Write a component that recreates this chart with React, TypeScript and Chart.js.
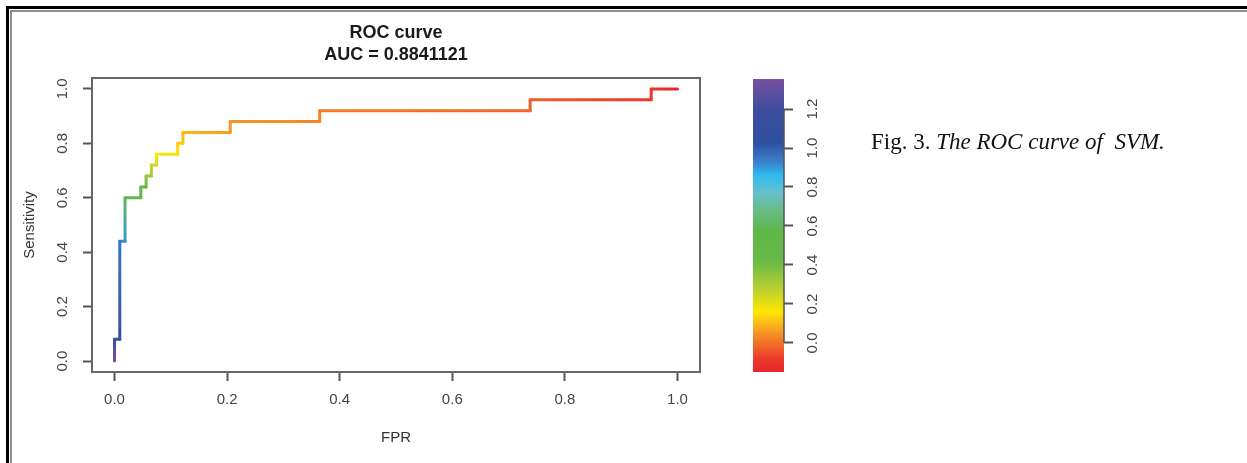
import React, { useEffect, useRef } from "react";
import { Chart, registerables } from "chart.js";
Chart.register(...registerables);

// ROC curve vertices (25 positives, 107 negatives)
const fpr = [0, 0, 0.009346, 0.009346, 0.018692, 0.018692, 0.046729, 0.046729, 0.056075, 0.056075, 0.065421, 0.065421, 0.074766, 0.074766, 0.11215, 0.11215, 0.121495, 0.121495, 0.205607, 0.205607, 0.364486, 0.364486, 0.738318, 0.738318, 0.953271, 0.953271, 1];
const tpr = [0, 0.08, 0.08, 0.44, 0.44, 0.6, 0.6, 0.64, 0.64, 0.68, 0.68, 0.72, 0.72, 0.76, 0.76, 0.8, 0.8, 0.84, 0.84, 0.88, 0.88, 0.92, 0.92, 0.96, 0.96, 1, 1];
// estimated cutoff at each vertex (drives the colour)
const cutoff = [1.35, 1.17, 1.12, 0.95, 0.9, 0.6, 0.52, 0.48, 0.44, 0.36, 0.32, 0.26, 0.22, 0.17, 0.15, 0.13, 0.12, 0.1, 0.06, 0.05, 0.03, 0.02, -0.02, -0.03, -0.09, -0.1, -0.149];

const axisTicks = [0, 0.2, 0.4, 0.6, 0.8, 1.0];
const colorbarTicks = [0, 0.2, 0.4, 0.6, 0.8, 1.0, 1.2];
const cutoffRange = [-0.149, 1.354];
const titleLines = ["ROC curve", "AUC = 0.8841121"];
const xLabel = "FPR";
const yLabel = "Sensitivity";

// colour scale
const cmapValues = [-0.149, -0.08, 0.005, 0.077, 0.16, 0.28, 0.415, 0.57, 0.69, 0.77, 0.86, 0.93, 1.03, 1.2, 1.354];
const cmapColors = ["#e8262a", "#ea3b2a", "#f07527", "#f9a723", "#ffe600", "#b8cf32", "#6aba46", "#5eb746", "#68bc8c", "#67c0cd", "#2fbaf0", "#3b7fcc", "#2f4fa0", "#3d4d9f", "#7a4fa0"];

const SANS = '"Liberation Sans", Arial, Helvetica, sans-serif';

function hexToRgb(h: string) {
  const n = parseInt(h.slice(1), 16);
  return [(n >> 16) & 255, (n >> 8) & 255, n & 255];
}
function cmap(v: number): string {
  if (v <= cmapValues[0]) return cmapColors[0];
  const last = cmapValues.length - 1;
  if (v >= cmapValues[last]) return cmapColors[last];
  for (let k = 0; k < last; k++) {
    const a = cmapValues[k], b = cmapValues[k + 1];
    if (v >= a && v <= b) {
      const t = (v - a) / (b - a);
      const c0 = hexToRgb(cmapColors[k]), c1 = hexToRgb(cmapColors[k + 1]);
      const c = c0.map((x, i) => Math.round(x + (c1[i] - x) * t));
      return `rgb(${c[0]},${c[1]},${c[2]})`;
    }
  }
  return cmapColors[last];
}

const fmt = (v: number | string) => Number(v).toFixed(1);

export default function App() {
  const mainRef = useRef<HTMLCanvasElement | null>(null);
  const cbRef = useRef<HTMLCanvasElement | null>(null);

  useEffect(() => {
    const canvas = mainRef.current!;
    const cbCanvas = cbRef.current!;
    const ctx2d = canvas.getContext("2d")!;

    const segColor = (c: any) => {
      const g = ctx2d.createLinearGradient(c.p0.x, c.p0.y, c.p1.x, c.p1.y);
      g.addColorStop(0, cmap(cutoff[c.p0DataIndex]));
      g.addColorStop(1, cmap(cutoff[c.p1DataIndex]));
      return g;
    };

    const boxPlugin = {
      id: "box",
      afterDraw(chart: any) {
        const { ctx, chartArea: a } = chart;
        ctx.save();
        ctx.strokeStyle = "#666";
        ctx.lineWidth = 2;
        ctx.strokeRect(a.left, a.top, a.right - a.left, a.bottom - a.top);
        ctx.restore();
      },
    };

    const tickFont = { family: SANS, size: 15 };

    const main = new Chart(canvas, {
      type: "line",
      data: {
        datasets: [
          {
            data: fpr.map((x, i) => ({ x, y: tpr[i] })),
            borderColor: "#f07527",
            borderWidth: 3,
            pointRadius: 0,
            tension: 0,
            fill: false,
            borderCapStyle: "round",
            borderJoinStyle: "round",
            segment: {
              borderColor: segColor,
              borderDashOffset: (c: any) => c.p0DataIndex,
            },
          } as any,
        ],
      },
      options: {
        responsive: false,
        animation: false,
        events: [],
        layout: { padding: { left: 0, top: 0, right: 547, bottom: 0 } },
        plugins: {
          legend: { display: false },
          tooltip: { enabled: false },
          title: {
            display: true,
            text: titleLines,
            fullSize: false,
            color: "#1a1a1a",
            font: { family: SANS, size: 18, weight: "bold", lineHeight: "22px" },
            padding: { top: 22, bottom: 12 },
          },
        },
        scales: {
          x: {
            type: "linear",
            min: -0.04,
            max: 1.04,
            afterBuildTicks: (s: any) => {
              s.ticks = axisTicks.map((v) => ({ value: v }));
            },
            afterFit: (s: any) => {
              s.height = 91;
            },
            ticks: { font: tickFont, color: "#444", padding: 10, autoSkip: false, maxRotation: 0, callback: fmt },
            grid: { drawOnChartArea: false, drawTicks: true, tickLength: 9, tickColor: "#555", tickWidth: 2 },
            border: { display: false },
            title: {
              display: true,
              text: xLabel,
              color: "#333",
              font: { family: SANS, size: 15, lineHeight: "18px" },
              padding: { top: 0, bottom: 16 },
            },
          },
          y: {
            type: "linear",
            min: -0.04,
            max: 1.04,
            afterBuildTicks: (s: any) => {
              s.ticks = axisTicks.map((v) => ({ value: v }));
            },
            afterFit: (s: any) => {
              s.width = 92;
            },
            ticks: {
              font: tickFont,
              color: "#444",
              padding: 10,
              autoSkip: false,
              minRotation: 90,
              maxRotation: 90,
              crossAlign: "center",
              callback: fmt,
            },
            grid: { drawOnChartArea: false, drawTicks: true, tickLength: 9, tickColor: "#555", tickWidth: 2 },
            border: { display: false },
            title: {
              display: true,
              text: yLabel,
              color: "#333",
              font: { family: SANS, size: 15, lineHeight: "18px" },
              padding: { top: 21, bottom: 0 },
            },
          },
        },
      } as any,
      plugins: [boxPlugin],
    });

    const axisLinePlugin = {
      id: "cbAxisLine",
      afterDraw(chart: any) {
        const s = chart.scales.y;
        const { ctx } = chart;
        ctx.save();
        ctx.strokeStyle = "#555";
        ctx.lineWidth = 1.5;
        ctx.beginPath();
        ctx.moveTo(s.left, s.getPixelForValue(colorbarTicks[0]));
        ctx.lineTo(s.left, s.getPixelForValue(colorbarTicks[colorbarTicks.length - 1]));
        ctx.stroke();
        ctx.restore();
      },
    };

    const cb = new Chart(cbCanvas, {
      type: "bar",
      data: {
        labels: ["cutoff"],
        datasets: [
          {
            data: [cutoffRange as any],
            backgroundColor: (c: any) => {
              const chart = c.chart;
              if (!chart.chartArea) return cmapColors[0];
              const ys = chart.scales.y;
              const v0 = cmapValues[0];
              const vN = cmapValues[cmapValues.length - 1];
              const g = chart.ctx.createLinearGradient(0, ys.getPixelForValue(v0), 0, ys.getPixelForValue(vN));
              cmapValues.forEach((v, k) => g.addColorStop((v - v0) / (vN - v0), cmapColors[k]));
              return g;
            },
            borderWidth: 0,
            barPercentage: 1,
            categoryPercentage: 1,
          },
        ],
      },
      options: {
        responsive: false,
        animation: false,
        events: [],
        layout: { padding: { left: 13, top: 79, right: 0, bottom: 91 } },
        plugins: { legend: { display: false }, tooltip: { enabled: false }, title: { display: false } },
        scales: {
          x: { display: false },
          y: {
            position: "right",
            min: cutoffRange[0],
            max: cutoffRange[1],
            afterBuildTicks: (s: any) => {
              s.ticks = colorbarTicks.map((v) => ({ value: v }));
            },
            afterFit: (s: any) => {
              s.width = 76;
            },
            ticks: {
              font: tickFont,
              color: "#444",
              padding: 9,
              autoSkip: false,
              minRotation: 90,
              maxRotation: 90,
              crossAlign: "center",
              callback: fmt,
            },
            grid: { drawOnChartArea: false, drawTicks: true, tickLength: 9, tickColor: "#555", tickWidth: 2 },
            border: { display: false },
          },
        },
      } as any,
      plugins: [axisLinePlugin],
    });

    return () => {
      main.destroy();
      cb.destroy();
    };
  }, []);

  return (
    <div style={{ position: "fixed", left: 0, top: 0, width: 1247, height: 463, background: "#fff", overflow: "hidden" }}>
      <canvas ref={mainRef} width={1247} height={463} style={{ position: "absolute", left: 0, top: 0, display: "block" }} />
      <canvas ref={cbRef} width={120} height={463} style={{ position: "absolute", left: 740, top: 0, display: "block" }} />
      <div
        style={{
          position: "absolute",
          left: 871,
          top: 130,
          fontFamily: '"Liberation Serif", "DejaVu Serif", serif',
          fontSize: 23,
          lineHeight: 1,
          color: "#111",
          whiteSpace: "nowrap",
        }}
      >
        Fig. 3. <i>The ROC curve of&nbsp; SVM.</i>
      </div>
      <div style={{ position: "absolute", left: 6, top: 6, right: 0, bottom: 0, borderTop: "3px solid #000", borderLeft: "3px solid #000" }} />
      <div style={{ position: "absolute", left: 10, top: 10, right: 0, bottom: 0, borderTop: "2px solid #8c8c8c", borderLeft: "2px solid #8c8c8c" }} />
    </div>
  );
}
